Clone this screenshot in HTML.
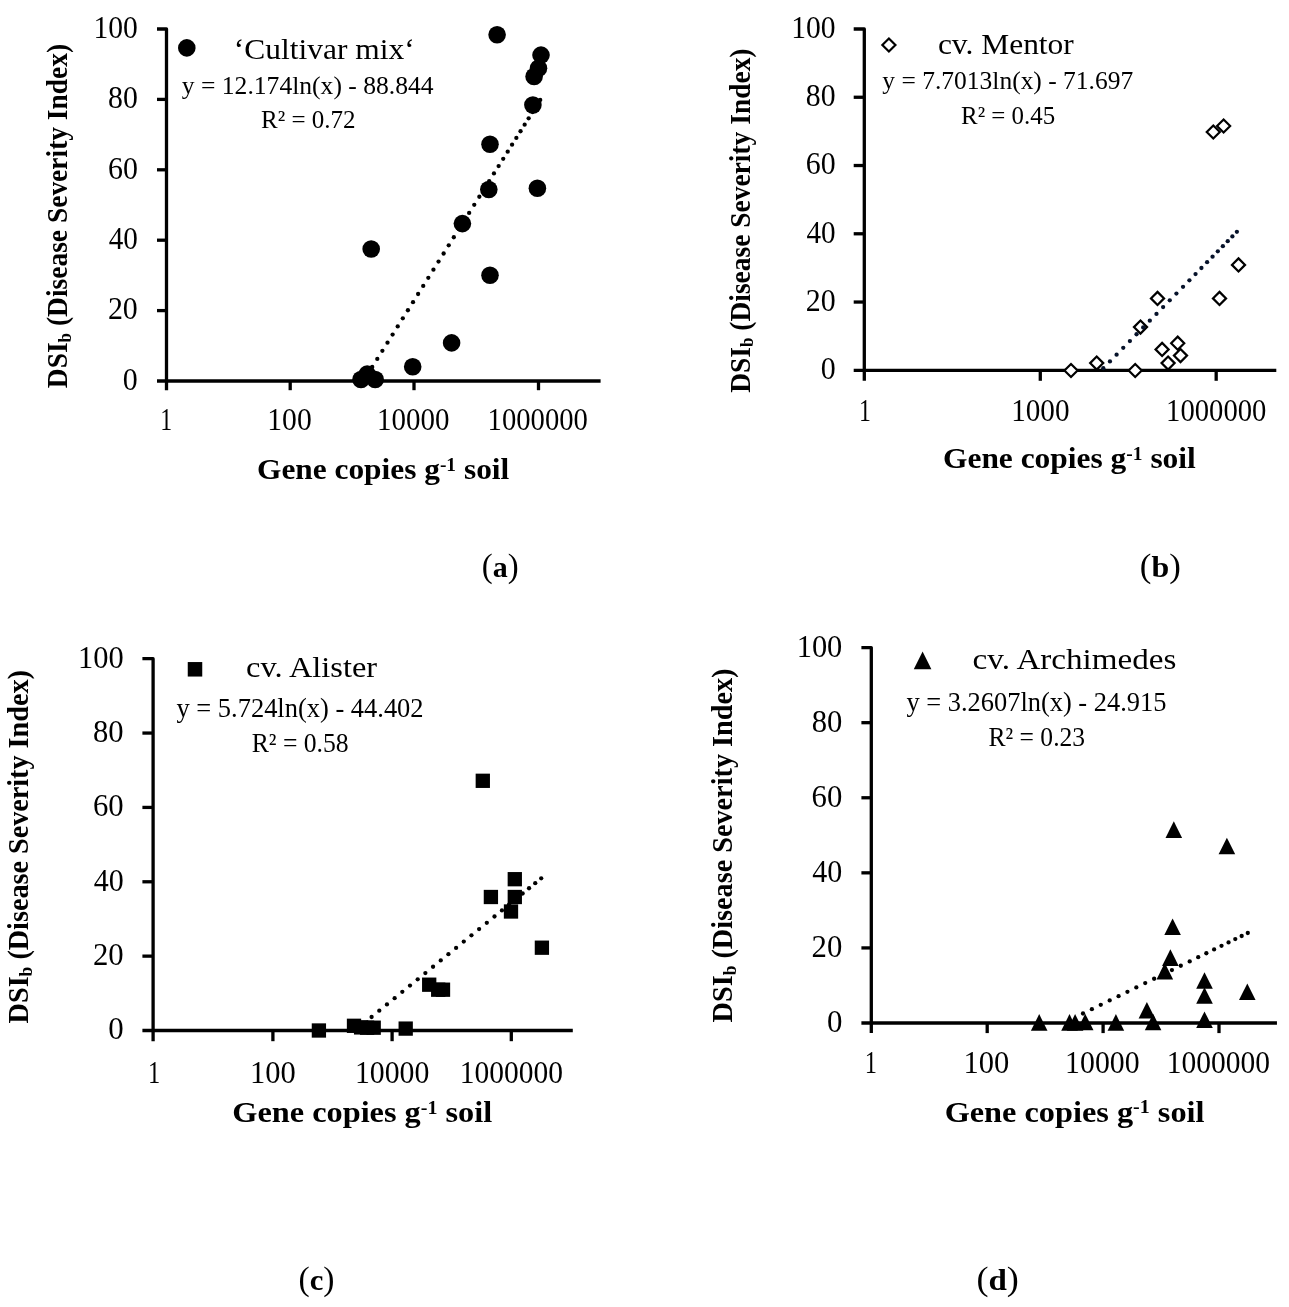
<!DOCTYPE html>
<html><head><meta charset="utf-8"><title>Figure</title>
<style>html,body{margin:0;padding:0;background:#fff;}body{width:1289px;height:1307px;overflow:hidden;font-family:"Liberation Serif",serif;}</style>
</head><body>
<svg width="1289" height="1307" viewBox="0 0 1289 1307" font-family="'Liberation Serif', serif" style="display:block;will-change:transform">
<rect width="1289" height="1307" fill="#fff"/>
<g stroke="#000" stroke-width="3.30" fill="none" stroke-linecap="butt" stroke-linejoin="round">
<path d="M157.00 29.00L166.50 29.00L166.50 390.20"/>
<path d="M157.00 381.00L600.60 381.00"/>
<path d="M157.00 310.60L166.50 310.60"/>
<path d="M157.00 240.20L166.50 240.20"/>
<path d="M157.00 169.80L166.50 169.80"/>
<path d="M157.00 99.40L166.50 99.40"/>
<path d="M290.20 381.00L290.20 390.20"/>
<path d="M414.00 381.00L414.00 390.20"/>
<path d="M538.50 381.00L538.50 390.20"/>
</g>
<text transform="translate(122.862,389.700) scale(0.9789,1.0000)" fill="#000" xml:space="preserve"><tspan x="0.000" y="0.000" font-size="30.600">0</tspan></text>
<text transform="translate(107.913,319.300) scale(0.9779,1.0000)" fill="#000" xml:space="preserve"><tspan x="0.000" y="0.000" font-size="30.600">20</tspan></text>
<text transform="translate(108.646,248.900) scale(0.9530,1.0000)" fill="#000" xml:space="preserve"><tspan x="0.000" y="0.000" font-size="30.600">40</tspan></text>
<text transform="translate(107.945,178.500) scale(0.9768,1.0000)" fill="#000" xml:space="preserve"><tspan x="0.000" y="0.000" font-size="30.600">60</tspan></text>
<text transform="translate(108.069,108.100) scale(0.9726,1.0000)" fill="#000" xml:space="preserve"><tspan x="0.000" y="0.000" font-size="30.600">80</tspan></text>
<text transform="translate(93.425,37.700) scale(0.9673,1.0000)" fill="#000" xml:space="preserve"><tspan x="0.000" y="0.000" font-size="30.600">100</tspan></text>
<text transform="translate(160.330,430.000) scale(0.7776,1.0000)" fill="#000" xml:space="preserve"><tspan x="0.000" y="0.000" font-size="30.600">1</tspan></text>
<text transform="translate(267.218,430.000) scale(0.9697,1.0000)" fill="#000" xml:space="preserve"><tspan x="0.000" y="0.000" font-size="30.600">100</tspan></text>
<text transform="translate(377.080,430.000) scale(0.9467,1.0000)" fill="#000" xml:space="preserve"><tspan x="0.000" y="0.000" font-size="30.600">10000</tspan></text>
<text transform="translate(487.605,430.000) scale(0.9373,1.0000)" fill="#000" xml:space="preserve"><tspan x="0.000" y="0.000" font-size="30.600">1000000</tspan></text>
<text transform="translate(256.995,479.300) scale(1.0630,1.0000)" fill="#000" xml:space="preserve"><tspan x="0.000" y="0.000" font-size="29.500" font-weight="bold">Gene copies g</tspan><tspan x="172.059" y="-7.965" font-size="18.290" font-weight="bold">-1</tspan><tspan x="187.295" y="0.000" font-size="29.500" font-weight="bold"> soil</tspan></text>
<text transform="translate(66.800,388.167) rotate(-90) scale(0.9310,1.0000)" fill="#000" xml:space="preserve"><tspan x="0.000" y="0.000" font-size="29.500" font-weight="bold">DSI</tspan><tspan x="49.191" y="3.835" font-size="18.290" font-weight="bold">b</tspan><tspan x="59.363" y="0.000" font-size="29.500" font-weight="bold"> (Disease Severity Index)</tspan></text>
<text transform="translate(233.778,59.100) scale(1.0854,1.0000)" fill="#000" xml:space="preserve"><tspan x="0.000" y="0.000" font-size="29.000">‘Cultivar mix‘</tspan></text>
<text transform="translate(181.793,94.000) scale(0.9925,1.0000)" fill="#000" xml:space="preserve"><tspan x="0.000" y="0.000" font-size="25.800">y = 12.174ln(x) - 88.844</tspan></text>
<text transform="translate(260.999,128.200) scale(0.9706,1.0000)" fill="#000" xml:space="preserve"><tspan x="0.000" y="0.000" font-size="25.800">R² = 0.72</tspan></text>
<circle cx="186.80" cy="47.90" r="8.80" fill="#000"/>
<circle cx="497.10" cy="34.80" r="8.80" fill="#000"/>
<circle cx="541.00" cy="55.10" r="8.80" fill="#000"/>
<circle cx="538.50" cy="68.30" r="8.80" fill="#000"/>
<circle cx="534.10" cy="76.50" r="8.80" fill="#000"/>
<circle cx="532.90" cy="105.00" r="8.80" fill="#000"/>
<circle cx="490.00" cy="144.20" r="8.80" fill="#000"/>
<circle cx="488.80" cy="189.50" r="8.80" fill="#000"/>
<circle cx="537.40" cy="188.20" r="8.80" fill="#000"/>
<circle cx="462.40" cy="223.60" r="8.80" fill="#000"/>
<circle cx="371.20" cy="249.00" r="8.80" fill="#000"/>
<circle cx="490.00" cy="275.30" r="8.80" fill="#000"/>
<circle cx="451.60" cy="342.90" r="8.80" fill="#000"/>
<circle cx="412.70" cy="366.70" r="8.80" fill="#000"/>
<circle cx="361.00" cy="379.50" r="8.80" fill="#000"/>
<circle cx="367.20" cy="374.10" r="8.80" fill="#000"/>
<circle cx="375.20" cy="379.50" r="8.80" fill="#000"/>
<g fill="#000"><circle cx="372.20" cy="367.00" r="2.15"/><circle cx="377.30" cy="358.89" r="2.15"/><circle cx="382.40" cy="350.78" r="2.15"/><circle cx="387.51" cy="342.67" r="2.15"/><circle cx="392.61" cy="334.57" r="2.15"/><circle cx="397.71" cy="326.46" r="2.15"/><circle cx="402.81" cy="318.35" r="2.15"/><circle cx="407.91" cy="310.24" r="2.15"/><circle cx="413.02" cy="302.13" r="2.15"/><circle cx="418.12" cy="294.02" r="2.15"/><circle cx="423.22" cy="285.91" r="2.15"/><circle cx="428.32" cy="277.80" r="2.15"/><circle cx="433.43" cy="269.70" r="2.15"/><circle cx="438.53" cy="261.59" r="2.15"/><circle cx="443.63" cy="253.48" r="2.15"/><circle cx="448.73" cy="245.37" r="2.15"/><circle cx="453.83" cy="237.26" r="2.15"/><circle cx="458.94" cy="229.15" r="2.15"/><circle cx="464.04" cy="221.04" r="2.15"/><circle cx="469.14" cy="212.93" r="2.15"/><circle cx="474.24" cy="204.83" r="2.15"/><circle cx="479.34" cy="196.73" r="2.15"/><circle cx="484.32" cy="188.81" r="2.15"/><circle cx="489.20" cy="181.06" r="2.15"/><circle cx="493.97" cy="173.47" r="2.15"/><circle cx="498.64" cy="166.04" r="2.15"/><circle cx="503.22" cy="158.78" r="2.15"/><circle cx="507.69" cy="151.67" r="2.15"/><circle cx="512.07" cy="144.71" r="2.15"/><circle cx="516.35" cy="137.90" r="2.15"/><circle cx="520.54" cy="131.24" r="2.15"/><circle cx="524.65" cy="124.72" r="2.15"/><circle cx="528.66" cy="118.34" r="2.15"/><circle cx="532.59" cy="112.09" r="2.15"/><circle cx="536.44" cy="105.98" r="2.15"/><circle cx="540.20" cy="100.00" r="2.15"/></g>
<g stroke="#000" stroke-width="3.30" fill="none" stroke-linecap="butt" stroke-linejoin="round">
<path d="M853.70 29.00L864.30 29.00L864.30 380.80"/>
<path d="M853.70 370.30L1276.30 370.30"/>
<path d="M853.70 302.04L864.30 302.04"/>
<path d="M853.70 233.78L864.30 233.78"/>
<path d="M853.70 165.52L864.30 165.52"/>
<path d="M853.70 97.26L864.30 97.26"/>
<path d="M1040.29 370.30L1040.29 380.80"/>
<path d="M1216.18 370.30L1216.18 380.80"/>
</g>
<text transform="translate(820.662,379.100) scale(0.9789,1.0000)" fill="#000" xml:space="preserve"><tspan x="0.000" y="0.000" font-size="30.600">0</tspan></text>
<text transform="translate(805.713,310.840) scale(0.9779,1.0000)" fill="#000" xml:space="preserve"><tspan x="0.000" y="0.000" font-size="30.600">20</tspan></text>
<text transform="translate(806.446,242.580) scale(0.9530,1.0000)" fill="#000" xml:space="preserve"><tspan x="0.000" y="0.000" font-size="30.600">40</tspan></text>
<text transform="translate(805.745,174.320) scale(0.9768,1.0000)" fill="#000" xml:space="preserve"><tspan x="0.000" y="0.000" font-size="30.600">60</tspan></text>
<text transform="translate(805.869,106.060) scale(0.9726,1.0000)" fill="#000" xml:space="preserve"><tspan x="0.000" y="0.000" font-size="30.600">80</tspan></text>
<text transform="translate(791.225,37.800) scale(0.9673,1.0000)" fill="#000" xml:space="preserve"><tspan x="0.000" y="0.000" font-size="30.600">100</tspan></text>
<text transform="translate(858.930,421.300) scale(0.7776,1.0000)" fill="#000" xml:space="preserve"><tspan x="0.000" y="0.000" font-size="30.600">1</tspan></text>
<text transform="translate(1011.147,421.300) scale(0.9551,1.0000)" fill="#000" xml:space="preserve"><tspan x="0.000" y="0.000" font-size="30.600">1000</tspan></text>
<text transform="translate(1166.085,421.300) scale(0.9373,1.0000)" fill="#000" xml:space="preserve"><tspan x="0.000" y="0.000" font-size="30.600">1000000</tspan></text>
<text transform="translate(942.991,468.200) scale(1.0655,1.0000)" fill="#000" xml:space="preserve"><tspan x="0.000" y="0.000" font-size="29.500" font-weight="bold">Gene copies g</tspan><tspan x="172.059" y="-7.965" font-size="18.290" font-weight="bold">-1</tspan><tspan x="187.295" y="0.000" font-size="29.500" font-weight="bold"> soil</tspan></text>
<text transform="translate(749.500,392.867) rotate(-90) scale(0.9312,1.0000)" fill="#000" xml:space="preserve"><tspan x="0.000" y="0.000" font-size="29.500" font-weight="bold">DSI</tspan><tspan x="49.191" y="3.835" font-size="18.290" font-weight="bold">b</tspan><tspan x="59.363" y="0.000" font-size="29.500" font-weight="bold"> (Disease Severity Index)</tspan></text>
<text transform="translate(937.905,53.700) scale(1.0844,1.0000)" fill="#000" xml:space="preserve"><tspan x="0.000" y="0.000" font-size="29.000">cv. Mentor</tspan></text>
<text transform="translate(882.294,89.400) scale(0.9891,1.0000)" fill="#000" xml:space="preserve"><tspan x="0.000" y="0.000" font-size="25.800">y = 7.7013ln(x) - 71.697</tspan></text>
<text transform="translate(961.002,124.300) scale(0.9664,1.0000)" fill="#000" xml:space="preserve"><tspan x="0.000" y="0.000" font-size="25.800">R² = 0.45</tspan></text>
<path d="M888.90 38.45L895.45 45.00L888.90 51.55L882.35 45.00Z" fill="#fff" stroke="#000" stroke-width="2.2" stroke-linejoin="miter"/>
<path d="M1071.00 363.95L1077.55 370.50L1071.00 377.05L1064.45 370.50Z" fill="#fff" stroke="#000" stroke-width="2.2" stroke-linejoin="miter"/>
<path d="M1096.70 356.55L1103.25 363.10L1096.70 369.65L1090.15 363.10Z" fill="#fff" stroke="#000" stroke-width="2.2" stroke-linejoin="miter"/>
<path d="M1135.20 363.95L1141.75 370.50L1135.20 377.05L1128.65 370.50Z" fill="#fff" stroke="#000" stroke-width="2.2" stroke-linejoin="miter"/>
<path d="M1168.10 356.55L1174.65 363.10L1168.10 369.65L1161.55 363.10Z" fill="#fff" stroke="#000" stroke-width="2.2" stroke-linejoin="miter"/>
<path d="M1162.10 342.85L1168.65 349.40L1162.10 355.95L1155.55 349.40Z" fill="#fff" stroke="#000" stroke-width="2.2" stroke-linejoin="miter"/>
<path d="M1177.70 336.65L1184.25 343.20L1177.70 349.75L1171.15 343.20Z" fill="#fff" stroke="#000" stroke-width="2.2" stroke-linejoin="miter"/>
<path d="M1180.50 349.05L1187.05 355.60L1180.50 362.15L1173.95 355.60Z" fill="#fff" stroke="#000" stroke-width="2.2" stroke-linejoin="miter"/>
<path d="M1140.50 320.55L1147.05 327.10L1140.50 333.65L1133.95 327.10Z" fill="#fff" stroke="#000" stroke-width="2.2" stroke-linejoin="miter"/>
<path d="M1157.50 291.85L1164.05 298.40L1157.50 304.95L1150.95 298.40Z" fill="#fff" stroke="#000" stroke-width="2.2" stroke-linejoin="miter"/>
<path d="M1219.50 291.85L1226.05 298.40L1219.50 304.95L1212.95 298.40Z" fill="#fff" stroke="#000" stroke-width="2.2" stroke-linejoin="miter"/>
<path d="M1238.50 258.35L1245.05 264.90L1238.50 271.45L1231.95 264.90Z" fill="#fff" stroke="#000" stroke-width="2.2" stroke-linejoin="miter"/>
<path d="M1213.30 125.45L1219.85 132.00L1213.30 138.55L1206.75 132.00Z" fill="#fff" stroke="#000" stroke-width="2.2" stroke-linejoin="miter"/>
<path d="M1223.60 119.45L1230.15 126.00L1223.60 132.55L1217.05 126.00Z" fill="#fff" stroke="#000" stroke-width="2.2" stroke-linejoin="miter"/>
<g fill="#06122a"><circle cx="1103.30" cy="368.20" r="2.15"/><circle cx="1109.95" cy="361.41" r="2.15"/><circle cx="1116.59" cy="354.63" r="2.15"/><circle cx="1123.24" cy="347.84" r="2.15"/><circle cx="1129.89" cy="341.05" r="2.15"/><circle cx="1136.54" cy="334.27" r="2.15"/><circle cx="1143.18" cy="327.48" r="2.15"/><circle cx="1149.83" cy="320.69" r="2.15"/><circle cx="1156.48" cy="313.91" r="2.15"/><circle cx="1163.13" cy="307.12" r="2.15"/><circle cx="1169.77" cy="300.33" r="2.15"/><circle cx="1176.42" cy="293.55" r="2.15"/><circle cx="1183.04" cy="286.79" r="2.15"/><circle cx="1189.41" cy="280.29" r="2.15"/><circle cx="1195.53" cy="274.03" r="2.15"/><circle cx="1201.43" cy="268.01" r="2.15"/><circle cx="1207.10" cy="262.22" r="2.15"/><circle cx="1212.56" cy="256.65" r="2.15"/><circle cx="1217.81" cy="251.29" r="2.15"/><circle cx="1222.86" cy="246.13" r="2.15"/><circle cx="1227.72" cy="241.17" r="2.15"/><circle cx="1232.40" cy="236.39" r="2.15"/><circle cx="1236.90" cy="231.80" r="2.15"/></g>
<g stroke="#000" stroke-width="3.30" fill="none" stroke-linecap="butt" stroke-linejoin="round">
<path d="M142.40 658.70L153.10 658.70L153.10 1041.20"/>
<path d="M142.40 1030.50L572.80 1030.50"/>
<path d="M142.40 956.14L153.10 956.14"/>
<path d="M142.40 881.78L153.10 881.78"/>
<path d="M142.40 807.42L153.10 807.42"/>
<path d="M142.40 733.06L153.10 733.06"/>
<path d="M272.90 1030.50L272.90 1041.20"/>
<path d="M392.10 1030.50L392.10 1041.20"/>
<path d="M511.30 1030.50L511.30 1041.20"/>
</g>
<text transform="translate(108.226,1039.300) scale(0.9808,1.0000)" fill="#000" xml:space="preserve"><tspan x="0.000" y="0.000" font-size="31.500">0</tspan></text>
<text transform="translate(92.876,964.940) scale(0.9776,1.0000)" fill="#000" xml:space="preserve"><tspan x="0.000" y="0.000" font-size="31.500">20</tspan></text>
<text transform="translate(93.630,890.580) scale(0.9527,1.0000)" fill="#000" xml:space="preserve"><tspan x="0.000" y="0.000" font-size="31.500">40</tspan></text>
<text transform="translate(92.908,816.220) scale(0.9765,1.0000)" fill="#000" xml:space="preserve"><tspan x="0.000" y="0.000" font-size="31.500">60</tspan></text>
<text transform="translate(93.036,741.860) scale(0.9723,1.0000)" fill="#000" xml:space="preserve"><tspan x="0.000" y="0.000" font-size="31.500">80</tspan></text>
<text transform="translate(77.949,667.500) scale(0.9674,1.0000)" fill="#000" xml:space="preserve"><tspan x="0.000" y="0.000" font-size="31.500">100</tspan></text>
<text transform="translate(148.051,1083.000) scale(0.7770,1.0000)" fill="#000" xml:space="preserve"><tspan x="0.000" y="0.000" font-size="31.500">1</tspan></text>
<text transform="translate(250.043,1083.000) scale(0.9697,1.0000)" fill="#000" xml:space="preserve"><tspan x="0.000" y="0.000" font-size="31.500">100</tspan></text>
<text transform="translate(354.906,1083.000) scale(0.9464,1.0000)" fill="#000" xml:space="preserve"><tspan x="0.000" y="0.000" font-size="31.500">10000</tspan></text>
<text transform="translate(459.733,1083.000) scale(0.9369,1.0000)" fill="#000" xml:space="preserve"><tspan x="0.000" y="0.000" font-size="31.500">1000000</tspan></text>
<text transform="translate(232.349,1122.000) scale(1.0628,1.0000)" fill="#000" xml:space="preserve"><tspan x="0.000" y="0.000" font-size="30.400" font-weight="bold">Gene copies g</tspan><tspan x="177.308" y="-8.208" font-size="18.848" font-weight="bold">-1</tspan><tspan x="193.009" y="0.000" font-size="30.400" font-weight="bold"> soil</tspan></text>
<text transform="translate(27.900,1023.379) rotate(-90) scale(0.9274,1.0000)" fill="#000" xml:space="preserve"><tspan x="0.000" y="0.000" font-size="30.400" font-weight="bold">DSI</tspan><tspan x="50.692" y="3.952" font-size="18.848" font-weight="bold">b</tspan><tspan x="61.174" y="0.000" font-size="30.400" font-weight="bold"> (Disease Severity Index)</tspan></text>
<text transform="translate(246.068,677.200) scale(1.0875,1.0000)" fill="#000" xml:space="preserve"><tspan x="0.000" y="0.000" font-size="29.800">cv. Alister</tspan></text>
<text transform="translate(176.482,717.000) scale(0.9952,1.0000)" fill="#000" xml:space="preserve"><tspan x="0.000" y="0.000" font-size="26.600">y = 5.724ln(x) - 44.402</tspan></text>
<text transform="translate(251.681,751.900) scale(0.9654,1.0000)" fill="#000" xml:space="preserve"><tspan x="0.000" y="0.000" font-size="26.600">R² = 0.58</tspan></text>
<rect x="187.75" y="662.05" width="14.50" height="14.50" fill="#000"/>
<rect x="311.75" y="1023.35" width="14.30" height="14.30" fill="#000"/>
<rect x="346.85" y="1018.65" width="14.30" height="14.30" fill="#000"/>
<rect x="353.95" y="1020.25" width="14.30" height="14.30" fill="#000"/>
<rect x="359.95" y="1020.55" width="14.30" height="14.30" fill="#000"/>
<rect x="366.55" y="1020.55" width="14.30" height="14.30" fill="#000"/>
<rect x="398.55" y="1021.45" width="14.30" height="14.30" fill="#000"/>
<rect x="422.05" y="977.55" width="14.30" height="14.30" fill="#000"/>
<rect x="431.05" y="982.55" width="14.30" height="14.30" fill="#000"/>
<rect x="435.85" y="982.55" width="14.30" height="14.30" fill="#000"/>
<rect x="475.65" y="773.65" width="14.30" height="14.30" fill="#000"/>
<rect x="483.75" y="889.85" width="14.30" height="14.30" fill="#000"/>
<rect x="507.65" y="872.05" width="14.30" height="14.30" fill="#000"/>
<rect x="507.65" y="889.85" width="14.30" height="14.30" fill="#000"/>
<rect x="503.85" y="904.35" width="14.30" height="14.30" fill="#000"/>
<rect x="534.75" y="940.55" width="14.30" height="14.30" fill="#000"/>
<g fill="#000"><circle cx="371.60" cy="1017.00" r="2.15"/><circle cx="379.28" cy="1010.72" r="2.15"/><circle cx="386.96" cy="1004.44" r="2.15"/><circle cx="394.64" cy="998.16" r="2.15"/><circle cx="402.32" cy="991.87" r="2.15"/><circle cx="410.00" cy="985.59" r="2.15"/><circle cx="417.69" cy="979.31" r="2.15"/><circle cx="425.37" cy="973.03" r="2.15"/><circle cx="433.05" cy="966.75" r="2.15"/><circle cx="440.73" cy="960.47" r="2.15"/><circle cx="448.41" cy="954.18" r="2.15"/><circle cx="456.09" cy="947.90" r="2.15"/><circle cx="463.77" cy="941.62" r="2.15"/><circle cx="471.45" cy="935.34" r="2.15"/><circle cx="479.13" cy="929.06" r="2.15"/><circle cx="486.81" cy="922.78" r="2.15"/><circle cx="494.49" cy="916.50" r="2.15"/><circle cx="501.92" cy="910.43" r="2.15"/><circle cx="509.07" cy="904.58" r="2.15"/><circle cx="515.97" cy="898.93" r="2.15"/><circle cx="522.63" cy="893.49" r="2.15"/><circle cx="529.04" cy="888.24" r="2.15"/><circle cx="535.23" cy="883.18" r="2.15"/><circle cx="541.20" cy="878.30" r="2.15"/></g>
<g stroke="#000" stroke-width="3.30" fill="none" stroke-linecap="butt" stroke-linejoin="round">
<path d="M861.40 647.60L871.30 647.60L871.30 1033.10"/>
<path d="M861.40 1023.00L1276.95 1023.00"/>
<path d="M861.40 947.92L871.30 947.92"/>
<path d="M861.40 872.84L871.30 872.84"/>
<path d="M861.40 797.76L871.30 797.76"/>
<path d="M861.40 722.68L871.30 722.68"/>
<path d="M987.20 1023.00L987.20 1033.10"/>
<path d="M1103.10 1023.00L1103.10 1033.10"/>
<path d="M1219.00 1023.00L1219.00 1033.10"/>
</g>
<text transform="translate(826.926,1032.000) scale(0.9808,1.0000)" fill="#000" xml:space="preserve"><tspan x="0.000" y="0.000" font-size="31.500">0</tspan></text>
<text transform="translate(811.576,956.920) scale(0.9776,1.0000)" fill="#000" xml:space="preserve"><tspan x="0.000" y="0.000" font-size="31.500">20</tspan></text>
<text transform="translate(812.330,881.840) scale(0.9527,1.0000)" fill="#000" xml:space="preserve"><tspan x="0.000" y="0.000" font-size="31.500">40</tspan></text>
<text transform="translate(811.608,806.760) scale(0.9765,1.0000)" fill="#000" xml:space="preserve"><tspan x="0.000" y="0.000" font-size="31.500">60</tspan></text>
<text transform="translate(811.736,731.680) scale(0.9723,1.0000)" fill="#000" xml:space="preserve"><tspan x="0.000" y="0.000" font-size="31.500">80</tspan></text>
<text transform="translate(796.649,656.600) scale(0.9674,1.0000)" fill="#000" xml:space="preserve"><tspan x="0.000" y="0.000" font-size="31.500">100</tspan></text>
<text transform="translate(864.851,1073.300) scale(0.7770,1.0000)" fill="#000" xml:space="preserve"><tspan x="0.000" y="0.000" font-size="31.500">1</tspan></text>
<text transform="translate(963.543,1073.300) scale(0.9697,1.0000)" fill="#000" xml:space="preserve"><tspan x="0.000" y="0.000" font-size="31.500">100</tspan></text>
<text transform="translate(1065.106,1073.300) scale(0.9464,1.0000)" fill="#000" xml:space="preserve"><tspan x="0.000" y="0.000" font-size="31.500">10000</tspan></text>
<text transform="translate(1166.633,1073.300) scale(0.9369,1.0000)" fill="#000" xml:space="preserve"><tspan x="0.000" y="0.000" font-size="31.500">1000000</tspan></text>
<text transform="translate(944.649,1121.600) scale(1.0628,1.0000)" fill="#000" xml:space="preserve"><tspan x="0.000" y="0.000" font-size="30.400" font-weight="bold">Gene copies g</tspan><tspan x="177.308" y="-8.208" font-size="18.848" font-weight="bold">-1</tspan><tspan x="193.009" y="0.000" font-size="30.400" font-weight="bold"> soil</tspan></text>
<text transform="translate(731.800,1022.380) rotate(-90) scale(0.9285,1.0000)" fill="#000" xml:space="preserve"><tspan x="0.000" y="0.000" font-size="30.400" font-weight="bold">DSI</tspan><tspan x="50.692" y="3.952" font-size="18.848" font-weight="bold">b</tspan><tspan x="61.174" y="0.000" font-size="30.400" font-weight="bold"> (Disease Severity Index)</tspan></text>
<text transform="translate(972.540,669.000) scale(1.1123,1.0000)" fill="#000" xml:space="preserve"><tspan x="0.000" y="0.000" font-size="29.800">cv. Archimedes</tspan></text>
<text transform="translate(906.483,710.700) scale(0.9934,1.0000)" fill="#000" xml:space="preserve"><tspan x="0.000" y="0.000" font-size="26.600">y = 3.2607ln(x) - 24.915</tspan></text>
<text transform="translate(988.485,745.900) scale(0.9606,1.0000)" fill="#000" xml:space="preserve"><tspan x="0.000" y="0.000" font-size="26.600">R² = 0.23</tspan></text>
<path d="M922.60 651.60L931.40 669.20L913.80 669.20Z" fill="#000"/>
<path d="M1173.80 821.30L1182.10 837.90L1165.50 837.90Z" fill="#000"/>
<path d="M1226.90 837.70L1235.20 854.30L1218.60 854.30Z" fill="#000"/>
<path d="M1172.60 918.40L1180.90 935.00L1164.30 935.00Z" fill="#000"/>
<path d="M1170.40 949.30L1178.70 965.90L1162.10 965.90Z" fill="#000"/>
<path d="M1164.80 962.80L1173.10 979.40L1156.50 979.40Z" fill="#000"/>
<path d="M1204.50 972.20L1212.80 988.80L1196.20 988.80Z" fill="#000"/>
<path d="M1204.50 987.20L1212.80 1003.80L1196.20 1003.80Z" fill="#000"/>
<path d="M1247.30 983.40L1255.60 1000.00L1239.00 1000.00Z" fill="#000"/>
<path d="M1146.90 1002.00L1155.20 1018.60L1138.60 1018.60Z" fill="#000"/>
<path d="M1153.10 1013.70L1161.40 1030.30L1144.80 1030.30Z" fill="#000"/>
<path d="M1204.50 1011.40L1212.80 1028.00L1196.20 1028.00Z" fill="#000"/>
<path d="M1115.90 1014.10L1124.20 1030.70L1107.60 1030.70Z" fill="#000"/>
<path d="M1039.20 1014.10L1047.50 1030.70L1030.90 1030.70Z" fill="#000"/>
<path d="M1069.50 1014.10L1077.80 1030.70L1061.20 1030.70Z" fill="#000"/>
<path d="M1075.10 1014.10L1083.40 1030.70L1066.80 1030.70Z" fill="#000"/>
<path d="M1085.20 1013.70L1093.50 1030.30L1076.90 1030.30Z" fill="#000"/>
<g fill="#000"><circle cx="1083.00" cy="1013.50" r="2.15"/><circle cx="1091.89" cy="1009.16" r="2.15"/><circle cx="1100.78" cy="1004.81" r="2.15"/><circle cx="1109.67" cy="1000.47" r="2.15"/><circle cx="1118.56" cy="996.13" r="2.15"/><circle cx="1127.45" cy="991.79" r="2.15"/><circle cx="1136.34" cy="987.44" r="2.15"/><circle cx="1145.23" cy="983.10" r="2.15"/><circle cx="1154.12" cy="978.76" r="2.15"/><circle cx="1163.01" cy="974.42" r="2.15"/><circle cx="1171.91" cy="970.07" r="2.15"/><circle cx="1180.80" cy="965.73" r="2.15"/><circle cx="1189.69" cy="961.39" r="2.15"/><circle cx="1198.21" cy="957.22" r="2.15"/><circle cx="1206.34" cy="953.25" r="2.15"/><circle cx="1214.10" cy="949.46" r="2.15"/><circle cx="1221.49" cy="945.85" r="2.15"/><circle cx="1228.54" cy="942.41" r="2.15"/><circle cx="1235.27" cy="939.12" r="2.15"/><circle cx="1241.68" cy="935.99" r="2.15"/><circle cx="1247.80" cy="933.00" r="2.15"/></g>
<text transform="translate(481.860,576.500) scale(0.9997,1.0000)" fill="#000" xml:space="preserve"><tspan x="0.000" y="0.300" font-size="32.850">(</tspan><tspan x="10.939" y="0.000" font-size="30.000" font-weight="bold">a</tspan><tspan x="25.939" y="0.300" font-size="32.850">)</tspan></text>
<text transform="translate(1139.871,576.500) scale(1.0618,1.0000)" fill="#000" xml:space="preserve"><tspan x="0.000" y="0.300" font-size="32.850">(</tspan><tspan x="10.939" y="0.000" font-size="30.000" font-weight="bold">b</tspan><tspan x="27.624" y="0.300" font-size="32.850">)</tspan></text>
<text transform="translate(298.525,1289.600) scale(1.0240,1.0000)" fill="#000" xml:space="preserve"><tspan x="0.000" y="0.300" font-size="32.850">(</tspan><tspan x="10.939" y="0.000" font-size="30.000" font-weight="bold">c</tspan><tspan x="24.255" y="0.300" font-size="32.850">)</tspan></text>
<text transform="translate(976.415,1289.600) scale(1.1010,1.0000)" fill="#000" xml:space="preserve"><tspan x="0.000" y="0.300" font-size="32.850">(</tspan><tspan x="10.939" y="0.000" font-size="30.000" font-weight="bold">d</tspan><tspan x="27.624" y="0.300" font-size="32.850">)</tspan></text>
</svg>
</body></html>
